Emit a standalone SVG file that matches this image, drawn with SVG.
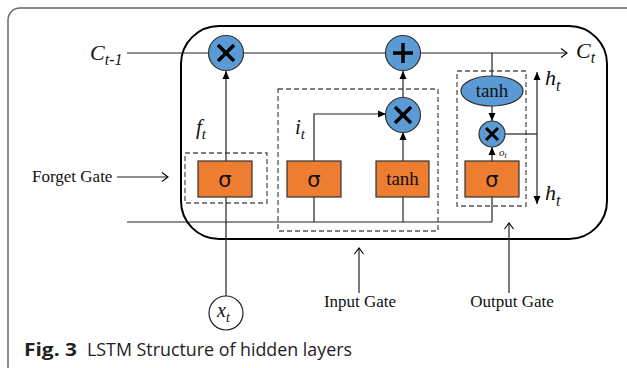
<svg xmlns="http://www.w3.org/2000/svg" width="627" height="368" viewBox="0 0 627 368">
<defs>
<marker id="fa" markerWidth="10" markerHeight="10" refX="9" refY="5" orient="auto" markerUnits="userSpaceOnUse">
<path d="M1,1.5 L9,5 L1,8.5 Z" fill="#000"/>
</marker>
<marker id="oa" markerWidth="12" markerHeight="12" refX="10" refY="6" orient="auto" markerUnits="userSpaceOnUse">
<path d="M4,1.5 L10,6 L4,10.5" fill="none" stroke="#000" stroke-width="1.1"/>
</marker>
</defs>
<style>
.ln{stroke:#222;stroke-width:1.2;fill:none}
.dash{stroke:#555;stroke-width:1.3;fill:none;stroke-dasharray:5,3}
.op{fill:#5B9BD5;stroke:#333;stroke-width:1.2}
.box{fill:#ED7D31;stroke:#333;stroke-width:1.2}
.sym{stroke:#000;stroke-width:3.5;stroke-linecap:butt}
.it{font-family:"Liberation Serif",serif;font-style:italic;fill:#111}
.lab{font-family:"Liberation Serif",serif;font-size:17px;fill:#111}
.sig{font-family:"DejaVu Sans","Liberation Sans",sans-serif;font-size:21px;fill:#111}
.th{font-family:"Liberation Serif",serif;font-size:19px;fill:#111}
</style>
<rect x="8" y="8" width="640" height="380" rx="12" fill="none" stroke="#666" stroke-width="1.5"/>
<rect x="181" y="26" width="426" height="213" rx="38" fill="none" stroke="#000" stroke-width="2"/>

<g id="dashboxes">
<rect class="dash" x="185" y="153" width="82" height="50"/>
<rect class="dash" x="278" y="89" width="160" height="142"/>
<rect class="dash" x="457" y="71" width="69" height="135"/>
</g>

<g id="connectors">
<line class="ln" x1="127" y1="53" x2="567" y2="53" marker-end="url(#oa)"/>
<line class="ln" x1="127" y1="222" x2="492" y2="222"/>
<line class="ln" x1="226" y1="296" x2="226" y2="197"/>
<line class="ln" x1="226" y1="161" x2="226" y2="71" marker-end="url(#fa)"/>
<polyline class="ln" points="314,161 314,114 386,114" marker-end="url(#fa)"/>
<line class="ln" x1="314" y1="197" x2="314" y2="222"/>
<line class="ln" x1="403" y1="197" x2="403" y2="222"/>
<line class="ln" x1="403" y1="161" x2="403" y2="132" marker-end="url(#fa)"/>
<line class="ln" x1="403" y1="98" x2="403" y2="71" marker-end="url(#fa)"/>
<line class="ln" x1="492" y1="53" x2="492" y2="76"/>
<line class="ln" x1="492" y1="106" x2="492" y2="121" marker-end="url(#fa)"/>
<line class="ln" x1="492" y1="161" x2="492" y2="147" marker-end="url(#fa)"/>
<line class="ln" x1="492" y1="197" x2="492" y2="222"/>
<line class="ln" x1="505" y1="134" x2="537" y2="134"/>
<line class="ln" x1="537" y1="134" x2="537" y2="72" marker-end="url(#fa)"/>
<line class="ln" x1="537" y1="134" x2="537" y2="204" marker-end="url(#fa)"/>
<line class="ln" x1="117" y1="177" x2="168" y2="177" marker-end="url(#oa)"/>
<line class="ln" x1="359" y1="293" x2="359" y2="248" marker-end="url(#oa)"/>
<line class="ln" x1="509" y1="293" x2="509" y2="223" marker-end="url(#oa)"/>
</g>

<g id="forget-mul">
<circle class="op" cx="226" cy="53" r="17.5"/>
<line class="sym" x1="218" y1="45" x2="234" y2="61"/><line class="sym" x1="234" y1="45" x2="218" y2="61"/>
</g>
<g id="add">
<circle class="op" cx="403" cy="53" r="17.5"/>
<line class="sym" x1="393" y1="53" x2="413" y2="53"/><line class="sym" x1="403" y1="43" x2="403" y2="63"/>
</g>
<g id="input-mul">
<circle class="op" cx="403" cy="115" r="17.5"/>
<line class="sym" x1="395" y1="107" x2="411" y2="123"/><line class="sym" x1="411" y1="107" x2="395" y2="123"/>
</g>
<g id="output-mul">
<circle class="op" cx="492" cy="134" r="13"/>
<line class="sym" x1="486" y1="128" x2="498" y2="140" style="stroke-width:3"/><line class="sym" x1="498" y1="128" x2="486" y2="140" style="stroke-width:3"/>
</g>
<g id="output-tanh">
<ellipse class="op" cx="492" cy="91" rx="31" ry="15"/>
<text class="th" x="492" y="97" text-anchor="middle">tanh</text>
</g>
<g id="forget-sigma">
<rect class="box" x="198" y="161" width="54" height="36"/>
<text class="sig" x="225" y="187" text-anchor="middle">σ</text>
</g>
<g id="input-sigma">
<rect class="box" x="287" y="161" width="54" height="36"/>
<text class="sig" x="314" y="187" text-anchor="middle">σ</text>
</g>
<g id="input-tanh">
<rect class="box" x="376" y="161" width="53" height="36"/>
<text class="th" x="402.5" y="185" text-anchor="middle">tanh</text>
</g>
<g id="output-sigma">
<rect class="box" x="465" y="161" width="54" height="36"/>
<text class="sig" x="492" y="187" text-anchor="middle">σ</text>
</g>
<g id="xt">
<circle cx="226" cy="313" r="17" fill="#fff" stroke="#222" stroke-width="1.2"/>
<text class="it" x="217" y="317" font-size="20">x<tspan font-size="14" dy="5">t</tspan></text>
</g>

<g id="labels">
<text class="it" x="90" y="60" font-size="22">C<tspan font-size="16" dy="5">t-1</tspan></text>
<text class="it" x="576" y="58" font-size="22">C<tspan font-size="16" dy="5">t</tspan></text>
<text class="it" x="545" y="85" font-size="22">h<tspan font-size="16" dy="6">t</tspan></text>
<text class="it" x="545" y="200" font-size="22">h<tspan font-size="16" dy="6">t</tspan></text>
<text class="it" x="196" y="134" font-size="21">f<tspan font-size="15" dy="5">t</tspan></text>
<text class="it" x="295" y="134" font-size="21">i<tspan font-size="15" dy="5">t</tspan></text>
<text class="it" x="499" y="156" font-size="11">o<tspan font-size="8" dy="2">t</tspan></text>
<text class="lab" x="32" y="182">Forget Gate</text>
<text class="lab" x="360" y="307" text-anchor="middle">Input Gate</text>
<text class="lab" x="512" y="307" text-anchor="middle">Output Gate</text>
</g>

<g id="caption">
<text x="24" y="356" font-family="'Open Sans','Liberation Sans',sans-serif" font-size="18" font-weight="bold" fill="#222" textLength="53" lengthAdjust="spacingAndGlyphs">Fig. 3</text>
<text x="87" y="356" font-family="'Open Sans','Liberation Sans',sans-serif" font-size="18" fill="#222" textLength="265" lengthAdjust="spacingAndGlyphs">LSTM Structure of hidden layers</text>
</g>
</svg>
